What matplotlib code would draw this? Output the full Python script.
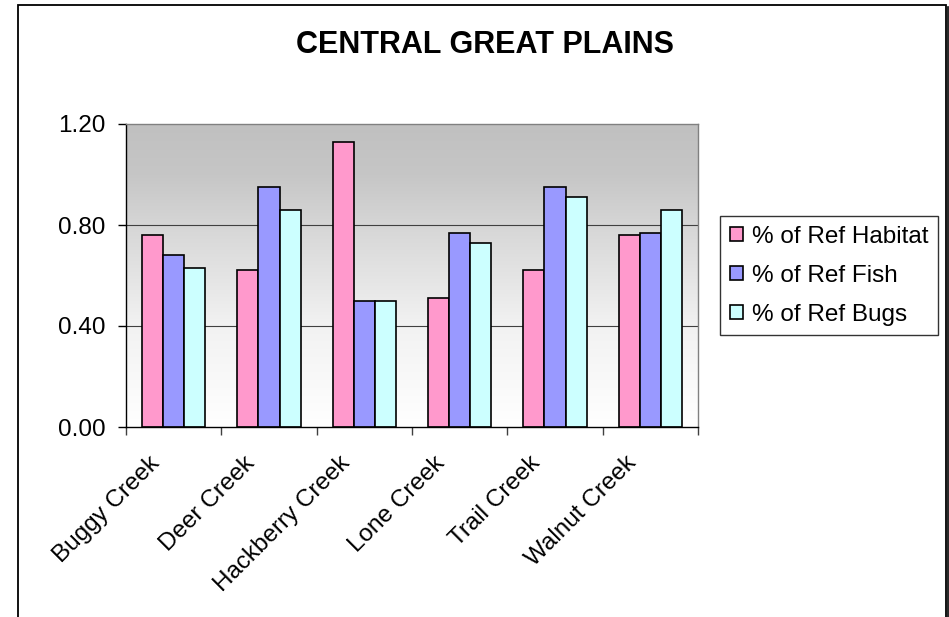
import matplotlib
matplotlib.use("Agg")
import matplotlib.pyplot as plt
import matplotlib.transforms as mtransforms
from matplotlib.patches import Rectangle
from matplotlib.lines import Line2D
import numpy as np

plt.rcParams['font.family'] = ['Liberation Sans', 'DejaVu Sans']

# Data
creeks = ["Buggy Creek", "Deer Creek", "Hackberry Creek",
          "Lone Creek", "Trail Creek", "Walnut Creek"]
habitat = [0.76, 0.62, 1.13, 0.51, 0.62, 0.76]
fish = [0.68, 0.95, 0.50, 0.77, 0.95, 0.77]
bugs = [0.63, 0.86, 0.50, 0.73, 0.91, 0.86]
series_names = ["% of Ref Habitat", "% of Ref Fish", "% of Ref Bugs"]
series_colors = ["#FF99CC", "#9999FF", "#CCFFFF"]
y_ticks = [0.0, 0.4, 0.8, 1.2]

W, H = 949, 617
fig = plt.figure(figsize=(W / 100, H / 100), dpi=100)
fig.patch.set_facecolor("white")

# Plot area in pixel coordinates
left, right, top, bottom = 126, 698, 124, 427
ax = fig.add_axes([left / W, 1 - bottom / H, (right - left) / W, (bottom - top) / H])

n = len(creeks)
ax.set_xlim(0, n)
ax.set_ylim(0, 1.2)

# gray-to-white gradient background
knots_v = [0.0, 0.4, 0.8, 1.0, 1.2]
knots_g = [255, 242, 214, 198, 192]
vals = np.linspace(0, 1.2, 300)
grey = np.interp(vals, knots_v, knots_g) / 255.0
grad = np.dstack([grey, grey, grey])[0][:, None, :]
ax.imshow(grad, aspect="auto", extent=[0, n, 0, 1.2], origin="lower", zorder=0)

# gridlines
for v in [0.4, 0.8]:
    ax.axhline(v, color="#404040", lw=0.8, zorder=1)

bar_w = 1 / 4.5
centers = np.arange(n) + 0.5
all_series = [habitat, fish, bugs]
for i, (vals_s, name, col) in enumerate(zip(all_series, series_names, series_colors)):
    xpos = centers + (i - 1) * bar_w
    ax.bar(xpos, vals_s, width=bar_w, color=col, edgecolor="black",
           linewidth=1.2, label=name, zorder=2)

# spines
ax.spines["left"].set_color("black")
ax.spines["bottom"].set_color("black")
ax.spines["top"].set_color("#808080")
ax.spines["right"].set_color("#808080")
for s in ax.spines.values():
    s.set_linewidth(1.0)

# y axis
ax.set_yticks(y_ticks)
ax.set_yticklabels([f"{v:.2f}" for v in y_ticks], fontsize=17.5)
ax.tick_params(axis="y", direction="out", length=6, width=1, pad=9)

# x axis: ticks on boundaries, labels at centers
ax.set_xticks(np.arange(n + 1))
ax.set_xticklabels([])
ax.tick_params(axis="x", which="major", direction="out", length=6, width=1, color="#404040")
ax.set_xticks(centers, minor=True)
ax.set_xticklabels(creeks, minor=True, rotation=45, ha="right", fontsize=17.5)
ax.tick_params(axis="x", which="minor", length=0, pad=18)
offset = mtransforms.ScaledTranslation(-10 / 100, 0, fig.dpi_scale_trans)
for lab in ax.get_xticklabels(minor=True):
    lab.set_transform(lab.get_transform() + offset)

# title
fig.text(485 / W, 1 - 45 / H, "CENTRAL GREAT PLAINS", ha="center", va="center",
         fontsize=22, fontweight="bold")

# legend
leg = ax.legend(loc="upper left", bbox_to_anchor=(720 / W, 1 - 216 / H),
                bbox_transform=fig.transFigure, borderaxespad=0, fontsize=17.5,
                frameon=True, fancybox=False, handlelength=0.55, handleheight=0.55,
                handletextpad=0.35, labelspacing=0.7, borderpad=0.4)
leg.get_frame().set_edgecolor("black")
leg.get_frame().set_linewidth(1.0)

# outer chart frame
fig.patches.append(Rectangle((18 / W, -0.05), (946 - 18) / W, 1.05 - 5 / H,
                             transform=fig.transFigure, fill=False,
                             edgecolor="black", linewidth=1.3))
fig.lines.append(Line2D([947.5 / W, 947.5 / W], [-0.05, 1 - 7 / H],
                        transform=fig.transFigure, color="black", linewidth=1.2))

fig.savefig("out.png", dpi=100)
